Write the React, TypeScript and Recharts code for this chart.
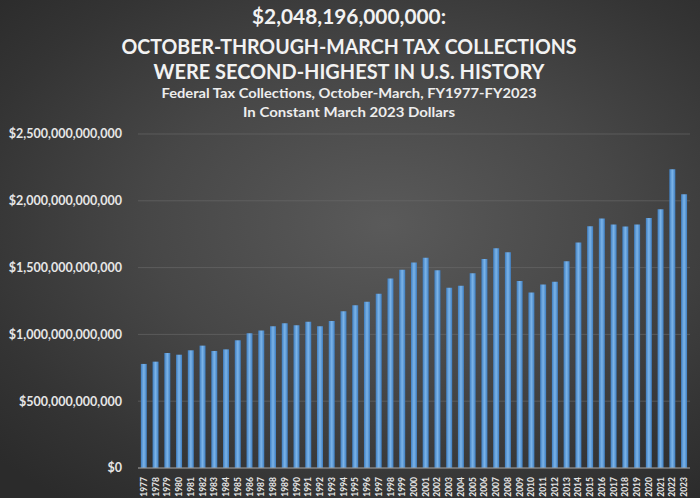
import React from "react";
import { BarChart, Bar, XAxis, YAxis, CartesianGrid } from "recharts";

const years = [
  "1977","1978","1979","1980","1981","1982","1983","1984","1985","1986",
  "1987","1988","1989","1990","1991","1992","1993","1994","1995","1996",
  "1997","1998","1999","2000","2001","2002","2003","2004","2005","2006",
  "2007","2008","2009","2010","2011","2012","2013","2014","2015","2016",
  "2017","2018","2019","2020","2021","2022","2023",
];

// billions of constant March 2023 dollars
const collectionsBillions = [
  779, 796, 861, 848, 881, 916, 876, 888, 956, 1008,
  1029, 1061, 1083, 1068, 1094, 1061, 1101, 1174, 1219, 1244,
  1304, 1419, 1484, 1539, 1574, 1481, 1349, 1364, 1457, 1564,
  1644, 1614, 1399, 1314, 1374, 1394, 1547, 1687, 1809, 1867,
  1822, 1807, 1822, 1872, 1937, 2237, 2048.196,
];

const yTicks = [0, 500e9, 1000e9, 1500e9, 2000e9, 2500e9];

const titleLines = [
  "$2,048,196,000,000:",
  "OCTOBER-THROUGH-MARCH TAX COLLECTIONS",
  "WERE SECOND-HIGHEST IN U.S. HISTORY",
];
const subtitleLines = [
  "Federal Tax Collections, October-March, FY1977-FY2023",
  "In Constant March 2023 Dollars",
];

const data = years.map((y, i) => ({ year: y, value: collectionsBillions[i] * 1e9 }));

const fmtDollar = (v: number) => "$" + Math.round(v).toLocaleString("en-US");

const FONT = "Lato, 'Open Sans', sans-serif";

const XTick = (props: any) => {
  const { x, y, payload } = props;
  return (
    <text
      x={x}
      y={y}
      transform={`rotate(-90 ${x} ${y})`}
      textAnchor="end"
      dominantBaseline="central"
      fill="#e6e6e6"
      fontSize={8.5}
      fontWeight={700}
      fontFamily={FONT}
    >
      {payload.value}
    </text>
  );
};

export default function App() {
  return (
    <div
      style={{
        position: "absolute",
        left: 0,
        top: 0,
        width: 700,
        height: 498,
        background:
          "radial-gradient(ellipse 75% 70% at 55% 45%, #5a5a5a 0%, #474747 45%, #343434 80%, #2b2b2b 100%)",
        overflow: "hidden",
      }}
    >
      <svg
        width={700}
        height={130}
        style={{ position: "absolute", left: 0, top: 0 }}
      >
        <text x={349} y={24} textAnchor="middle" fill="#f2f2f2" fontSize={21} fontWeight={700} fontFamily={FONT} textLength={194} lengthAdjust="spacingAndGlyphs">
          {titleLines[0]}
        </text>
        <text x={349} y={54} textAnchor="middle" fill="#f2f2f2" fontSize={21} fontWeight={700} fontFamily={FONT} textLength={455} lengthAdjust="spacingAndGlyphs">
          {titleLines[1]}
        </text>
        <text x={349} y={79} textAnchor="middle" fill="#f2f2f2" fontSize={21} fontWeight={700} fontFamily={FONT} textLength={391} lengthAdjust="spacingAndGlyphs">
          {titleLines[2]}
        </text>
        <text x={349} y={98} textAnchor="middle" fill="#ededed" fontSize={13} fontWeight={700} fontFamily={FONT} textLength={375} lengthAdjust="spacingAndGlyphs">
          {subtitleLines[0]}
        </text>
        <text x={349} y={117} textAnchor="middle" fill="#ededed" fontSize={13} fontWeight={700} fontFamily={FONT} textLength={212} lengthAdjust="spacingAndGlyphs">
          {subtitleLines[1]}
        </text>
      </svg>
      <div style={{ position: "absolute", left: 0, top: 0 }}>
        <BarChart
          width={700}
          height={498}
          data={data}
          margin={{ top: 134, right: 10, bottom: 2, left: 0 }}
          barCategoryGap="24%"
        >
          <defs>
            <linearGradient id="barGrad" x1="0" y1="0" x2="1" y2="0">
              <stop offset="0%" stopColor="#3f7fc2" />
              <stop offset="50%" stopColor="#7cb4e8" />
              <stop offset="100%" stopColor="#3f7fc2" />
            </linearGradient>
          </defs>
          <CartesianGrid vertical={false} stroke="#6a6a6a" strokeOpacity={0.6} />
          <XAxis
            dataKey="year"
            interval={0}
            height={28}
            tickLine={false}
            axisLine={{ stroke: "#9a9a9a", strokeWidth: 1 }}
            tick={<XTick />}
            tickMargin={3}
          />
          <YAxis
            width={138}
            domain={[0, 2500e9]}
            ticks={yTicks}
            tickFormatter={fmtDollar}
            axisLine={false}
            tickLine={false}
            tickMargin={10}
            tick={{ fill: "#e6e6e6", fontSize: 12.5, fontWeight: 700, fontFamily: FONT }}
          />
          <Bar dataKey="value" fill="url(#barGrad)" isAnimationActive={false} />
        </BarChart>
      </div>
    </div>
  );
}
